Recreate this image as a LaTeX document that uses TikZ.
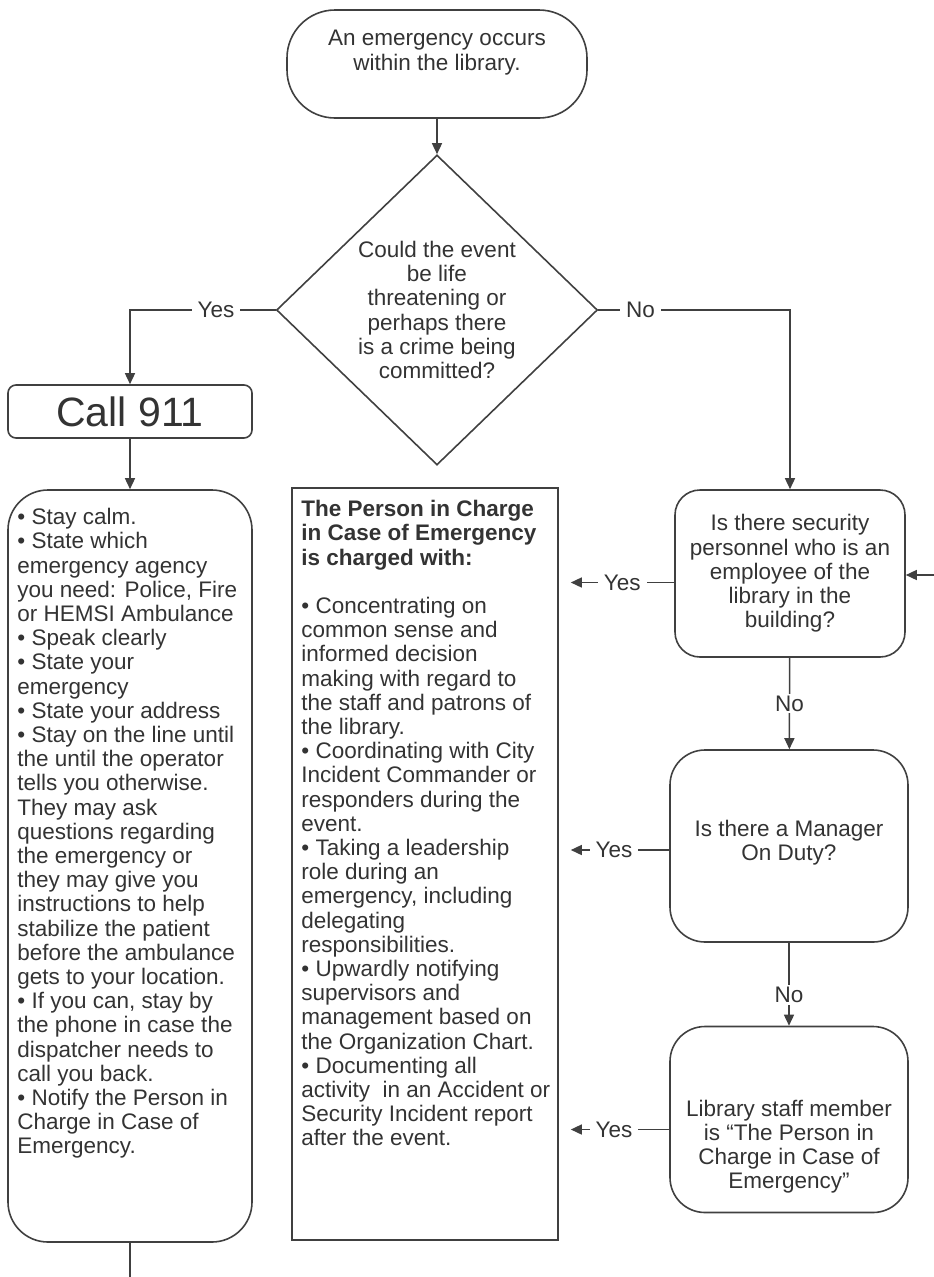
\documentclass[tikz,border=0pt]{standalone}
\usepackage{fontspec}
\setmainfont{Liberation Sans}
\usetikzlibrary{shapes.geometric,arrows.meta,positioning}

\definecolor{ink}{rgb}{0.2,0.2,0.2}
\definecolor{edge}{rgb}{0.25,0.25,0.25}

\begin{document}
\begin{tikzpicture}[x=1pt, y=-1pt,
    txt/.style={font=\fontsize{22.5}{24.2}\selectfont, text=ink},
    roundbox/.style={draw=edge, line width=1.6pt, rounded corners=#1, txt, align=center, inner sep=0pt},
    roundbox/.default=35pt,
    plainbox/.style={draw=edge, line width=1.6pt, inner sep=0pt},
    decision/.style={diamond, draw=edge, line width=1.6pt, txt, align=center, inner sep=0pt},
    inside/.style={txt, align=center, inner sep=0pt},
    lbl/.style={fill=white, txt, inner xsep=6pt, inner ysep=2pt},
    link/.style={draw=edge, line width=1.5pt},
    flow/.style={link, -{Triangle[length=11pt, width=10pt]}}]
            \useasboundingbox (0,0) rectangle (934,1277);

            \node[roundbox=48pt, minimum width=300pt, minimum height=108pt] (start) at (437,64) {};
            \node[inside, below=21pt of start.north] (starttext) {An emergency occurs\\within the library.};
            \node[decision, minimum width=321pt, minimum height=310pt] (decide) at (437,310) {Could the event\\be life\\threatening or\\perhaps there\\is a crime being\\committed?};
            \node[roundbox=8pt, minimum width=244pt, minimum height=53pt, font=\fontsize{41}{44}\selectfont] (call) at (130,411.5) {Call 911};

            \node[roundbox=40pt, minimum width=244pt, minimum height=752pt] (steps) at (130,866) {};
            \node[txt, align=left, inner sep=0pt, below right=19pt and 10pt of steps.north west] (stepstext) {%
                • Stay calm.\\
                • State which\\
                emergency agency\\
                you need: Police, Fire\\
                or HEMSI Ambulance\\
                • Speak clearly\\
                • State your\\
                emergency\\
                • State your address\\
                • Stay on the line until\\
                the until the operator\\
                tells you otherwise.\\
                They may ask\\
                questions regarding\\
                the emergency or\\
                they may give you\\
                instructions to help\\
                stabilize the patient\\
                before the ambulance\\
                gets to your location.\\
                • If you can, stay by\\
                the phone in case the\\
                dispatcher needs to\\
                call you back.\\
                • Notify the Person in\\
                Charge in Case of\\
                Emergency.};

            \node[plainbox, minimum width=266pt, minimum height=752pt] (pic) at (425,864) {};
            \node[txt, align=left, inner sep=0pt, below right=13pt and 10pt of pic.north west] (pictext) {%
                \textbf{The Person in Charge}\\
                \textbf{in Case of Emergency}\\
                \textbf{is charged with:}\\[24.2pt]
                • Concentrating on\\
                common sense and\\
                informed decision\\
                making with regard to\\
                the staff and patrons of\\
                the library.\\
                • Coordinating with City\\
                Incident Commander or\\
                responders during the\\
                event.\\
                • Taking a leadership\\
                role during an\\
                emergency, including\\
                delegating\\
                responsibilities.\\
                • Upwardly notifying\\
                supervisors and\\
                management based on\\
                the Organization Chart.\\
                • Documenting all\\
                activity\ \ in an Accident or\\
                Security Incident report\\
                after the event.};

            \node[roundbox=25pt, minimum width=230pt, minimum height=167pt] (security) at (790,573.5) {Is there security\\personnel who is an\\employee of the\\library in the\\building?};
            \node[roundbox=35pt, minimum width=238pt, minimum height=192pt] (manager) at (789,846) {};
            \node[inside, below=71pt of manager.north] (managertext) {Is there a Manager\\On Duty?};
            \node[roundbox=35pt, minimum width=238pt, minimum height=186pt] (staff) at (789,1119.5) {};
            \node[inside, below=74pt of staff.north] (stafftext) {Library staff member\\is ``The Person in\\Charge in Case of\\Emergency''};

            \coordinate (loopin) at (934,575);
            \coordinate (tail) at (130,1277);

            \draw[flow] (start) -- (decide);
            \draw[flow] (decide.west) -| node[lbl, pos=0.205] {Yes} (call.north);
            \draw[flow] (decide.east) -| node[lbl, pos=0.11] {No} (security.north);
            \draw[flow] (call) -- (steps);
            \draw[link] (steps) -- (tail);

            \draw[flow] (security) -- node[lbl] {No} (manager);
            \draw[flow] (manager) -- node[lbl, pos=0.63] {No} (staff);
            \draw[flow] (loopin) -- (loopin -| security.east);

            \draw[flow, shorten >=12pt] ([yshift=-9pt]security.west) -- node[lbl, pos=0.45] {Yes} ([yshift=-9pt]security.west -| pic.east);
            \draw[flow, shorten >=12pt] ([yshift=-4pt]manager.west) -- node[lbl, pos=0.5] {Yes} ([yshift=-4pt]manager.west -| pic.east);
            \draw[flow, shorten >=12pt] ([yshift=-10pt]staff.west) -- node[lbl, pos=0.5] {Yes} ([yshift=-10pt]staff.west -| pic.east);
        \end{tikzpicture}
\end{document}
